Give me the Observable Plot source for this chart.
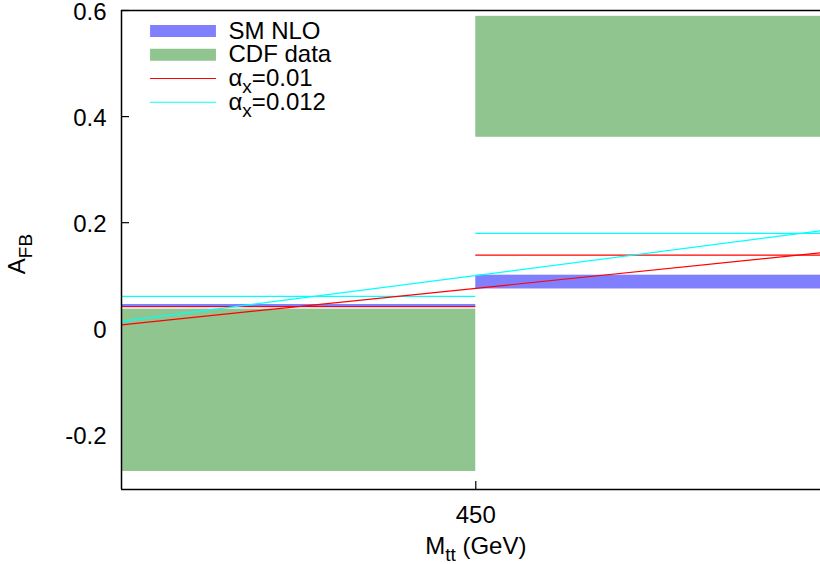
<!DOCTYPE html>
<html>
<head>
<meta charset="utf-8">
<script src="https://cdn.jsdelivr.net/npm/d3@7"></script>
<script src="https://cdn.jsdelivr.net/npm/@observablehq/plot@0.6"></script>
<style>
  html, body { margin: 0; padding: 0; background: #fff; overflow: hidden; }
  #chart { width: 820px; height: 564px; }
</style>
</head>
<body>
<div id="chart"></div>
<script>
// ---- data ----
const xTicks = [450];
const yTicks = [-0.2, 0, 0.2, 0.4, 0.6];
const binLo = [350, 450];
const binHi = [450, 550];
const smLo = [0.0395, 0.075];
const smHi = [0.0458, 0.101];
const cdfLo = [-0.269, 0.361];
const cdfHi = [0.037, 0.589];
const flat001 = [0.042, 0.139];
const flat0012 = [0.061, 0.180];
const slopeM = [350, 550];
const slope001 = [0.0075, 0.145];
const slope0012 = [0.014, 0.187];
const legendLabels = ["SM NLO", "CDF data", "α_{x}=0.01", "α_{x}=0.012"];
const legendColors = ["#8080ff", "#90c590", "#ff0000", "#00ffff"];
const xLabel = "M_{tt} (GeV)";
const yLabel = "A_{FB}";

// ---- layout ----
const W = 820, H = 564;
const mL = 121, mR = 0, mT = 10, mB = 75;
const plotW = W - mL - mR, plotH = H - mT - mB;
const xDomain = [350, 547.3];
const yDomain = [-0.303, 0.6];
const FS = 24;
const legX = [358.2, 376.8], legTextX = 380.2, legY0 = 0.5614, legStep = 0.0448;

const bins = binLo.map((lo, i) => ({lo, hi: binHi[i], smLo: smLo[i], smHi: smHi[i],
  cdfLo: cdfLo[i], cdfHi: cdfHi[i], f1: flat001[i], f2: flat0012[i]}));
const slopes = [
  ...slopeM.map((m, i) => ({m, v: slope001[i], s: "a"})),
  ...slopeM.map((m, i) => ({m, v: slope0012[i], s: "b"}))
];
const legendRows = legendLabels.map((label, i) => ({label, i, color: legendColors[i],
  y: legY0 - i * legStep}));

const plot = Plot.plot({
  width: W, height: H,
  marginLeft: mL, marginRight: mR, marginTop: mT, marginBottom: mB,
  style: {fontFamily: "'Liberation Sans', Arial, sans-serif", fontSize: FS + "px", background: "#fff"},
  x: {domain: xDomain, axis: null},
  y: {domain: yDomain, axis: null},
  marks: [
    // ticks (inward)
    Plot.tickY(yTicks, {y: d => d, stroke: "#000", strokeWidth: 1.2, insetRight: plotW - 8}),
    Plot.tickX(xTicks, {x: d => d, stroke: "#000", strokeWidth: 1.2, insetTop: plotH - 8}),
    // SM NLO band
    Plot.rectY(bins, {x1: "lo", x2: "hi", y1: "smLo", y2: "smHi", fill: legendColors[0], clip: true}),
    // CDF data
    Plot.rectY(bins, {x1: "lo", x2: "hi", y1: "cdfLo", y2: "cdfHi", fill: legendColors[1], clip: true}),
    // flat predictions
    Plot.ruleY(bins, {x1: "lo", x2: "hi", y: "f1", stroke: legendColors[2], strokeWidth: 1.2, clip: true}),
    Plot.ruleY(bins, {x1: "lo", x2: "hi", y: "f2", stroke: legendColors[3], strokeWidth: 1.2, clip: true}),
    // sloped predictions
    Plot.line(slopes, {x: "m", y: "v", z: "s", stroke: d => d.s === "a" ? legendColors[2] : legendColors[3],
      strokeWidth: 1.2, clip: true}),
    // frame (left, top, bottom)
    Plot.ruleX([xDomain[0]], {stroke: "#000", strokeWidth: 1.5}),
    Plot.ruleY([yDomain[1]], {stroke: "#000", strokeWidth: 1.5}),
    Plot.ruleY([yDomain[0]], {stroke: "#000", strokeWidth: 1.5}),
    // axes labels
    Plot.axisY(yTicks, {tickSize: 0, tickPadding: 15, dy: 1.5, tickFormat: d => String(d), fontSize: FS, label: null, fill: "#000"}),
    Plot.axisX(xTicks, {tickSize: 0, tickPadding: 16, tickFormat: d => String(d), fontSize: FS, label: null, fill: "#000"}),
    Plot.text([xLabel], {x: () => xTicks[0], frameAnchor: "bottom", lineAnchor: "middle", textAnchor: "middle",
      dy: 57, text: d => d, fontSize: FS, fill: "#000"}),
    Plot.text([yLabel], {frameAnchor: "left", lineAnchor: "middle", textAnchor: "middle", dx: -104, dy: 4, rotate: -90,
      text: d => d, fontSize: FS, fill: "#000"}),
    // legend
    Plot.ruleY(legendRows.slice(0, 2), {x1: () => legX[0], x2: () => legX[1], y: "y", stroke: "color", strokeWidth: 12}),
    Plot.ruleY(legendRows.slice(2), {x1: () => legX[0], x2: () => legX[1], y: "y", stroke: "color", strokeWidth: 1.2}),
    Plot.text(legendRows, {x: () => legTextX, y: "y", text: "label", textAnchor: "start", lineAnchor: "middle",
      fontSize: FS, fill: "#000"})
  ]
});

// subscripts: turn "_{...}" into lowered, smaller tspans
const SUB_FS = 19, SUB_DY = 7;
plot.querySelectorAll("text").forEach(el => {
  const s = el.textContent;
  if (!s.includes("_{")) return;
  const parts = s.split(/(_\{[^}]*\})/).filter(p => p.length);
  el.textContent = "";
  let lowered = false;
  const ns = "http://www.w3.org/2000/svg";
  parts.forEach(p => {
    const t = document.createElementNS(ns, "tspan");
    if (p.startsWith("_{")) {
      t.textContent = p.slice(2, -1);
      t.setAttribute("font-size", SUB_FS);
      t.setAttribute("dy", SUB_DY);
      lowered = true;
    } else {
      t.textContent = p;
      if (lowered) { t.setAttribute("dy", -SUB_DY); lowered = false; }
    }
    el.appendChild(t);
  });
});

document.getElementById("chart").appendChild(plot);
</script>
</body>
</html>
